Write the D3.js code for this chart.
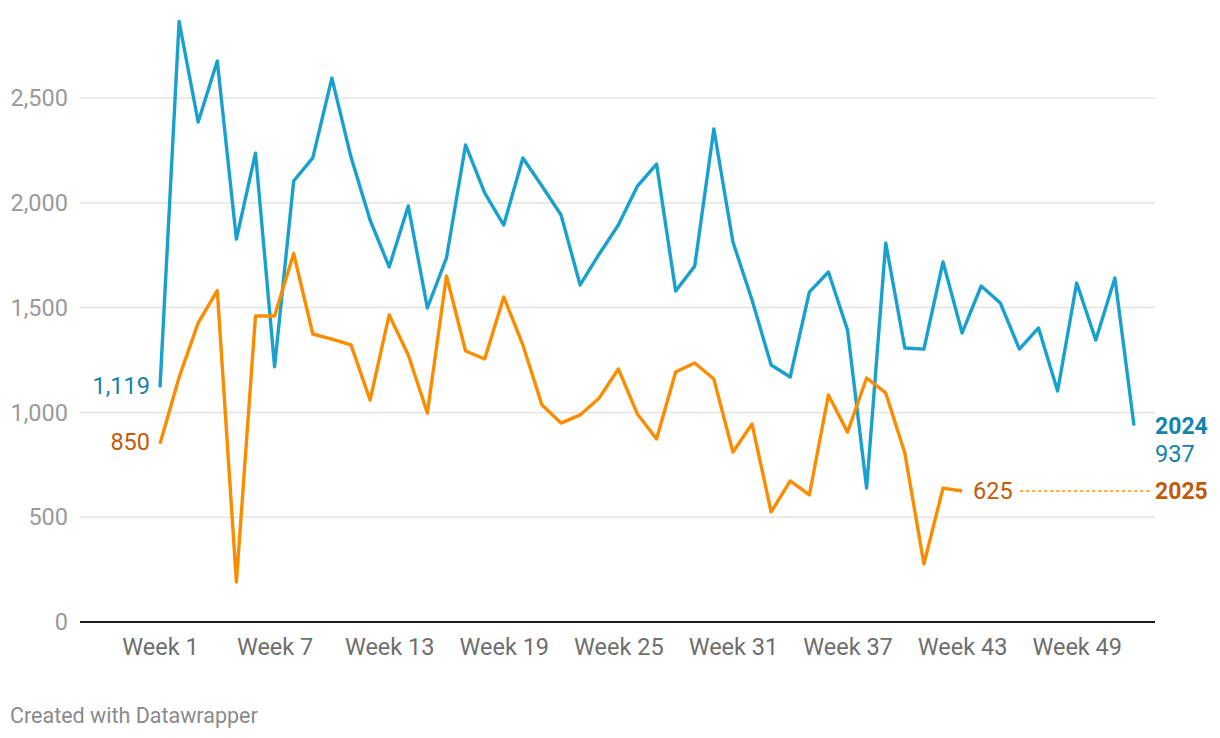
<!DOCTYPE html>
<html>
<head>
<meta charset="utf-8">
<script src="https://cdn.jsdelivr.net/npm/d3@7"></script>
<style>
  body { margin: 0; background: #fff; font-family: Roboto, "Noto Sans", sans-serif; }
  svg { display: block; }
</style>
</head>
<body>
<div id="chart"></div>
<script>
// weekly values
const weeks = [1,2,3,4,5,6,7,8,9,10,11,12,13,14,15,16,17,18,19,20,21,22,23,24,25,26,
  27,28,29,30,31,32,33,34,35,36,37,38,39,40,41,42,43,44,45,46,47,48,49,50,51,52];

const values2024 = [1119,2865,2385,2676,1827,2237,1217,2104,2214,2595,2218,1918,1694,1985,
  1498,1737,2276,2047,1894,2214,2080,1942,1608,1756,1894,2080,2185,1579,1698,2352,1813,
  1536,1226,1169,1574,1670,1393,639,1808,1307,1302,1718,1379,1603,1522,1302,1403,1102,
  1617,1345,1641,937];

const values2025 = [850,1167,1427,1581,191,1460,1460,1758,1374,1350,1322,1059,1465,1274,
  997,1651,1293,1255,1551,1322,1035,949,988,1069,1207,992,873,1193,1236,1159,811,945,
  525,673,606,1083,906,1164,1093,806,277,639,625];

const yTicks = [0, 500, 1000, 1500, 2000, 2500];
const xTicks = [1, 7, 13, 19, 25, 31, 37, 43, 49];

const width = 1220, height = 738;
const blue = "#18a1cd", orange = "#fa8c00";
const blueText = "#1283ad", orangeText = "#c25b09";

const svg = d3.select("#chart").append("svg")
  .attr("width", width)
  .attr("height", height);

const x = d3.scaleLinear().domain([1, 52]).range([160, 1134]);
const y = d3.scaleLinear().domain([0, 2500]).range([622, 98]);

const left = 80, right = 1155;

// gridlines
svg.append("g")
  .selectAll("line")
  .data(yTicks.filter(d => d > 0))
  .enter().append("line")
  .attr("x1", left).attr("x2", right)
  .attr("y1", d => y(d)).attr("y2", d => y(d))
  .attr("stroke", "#e3e3e3")
  .attr("stroke-width", 1.5);

// y labels
svg.append("g")
  .selectAll("text")
  .data(yTicks)
  .enter().append("text")
  .attr("x", 68)
  .attr("y", d => y(d))
  .attr("dy", "0.35em")
  .attr("text-anchor", "end")
  .attr("fill", "#9a9a9a")
  .style("font-size", "23.5px")
  .text(d => d3.format(",")(d));

// baseline
svg.append("line")
  .attr("x1", left).attr("x2", right)
  .attr("y1", y(0)).attr("y2", y(0))
  .attr("stroke", "#1a1a1a")
  .attr("stroke-width", 2);

// x axis
const xAxis = d3.axisBottom(x)
  .tickValues(xTicks)
  .tickSize(0)
  .tickPadding(16)
  .tickFormat(d => "Week " + d);

svg.append("g")
  .attr("transform", `translate(0,${y(0)})`)
  .call(xAxis)
  .call(g => g.select(".domain").remove())
  .call(g => g.selectAll("text")
    .attr("fill", "#6e6e6e")
    .style("font-family", "Roboto, sans-serif")
    .style("font-size", "23.5px"));

const line = d3.line()
  .x((d, i) => x(weeks[i]))
  .y(d => y(d));

svg.append("path")
  .datum(values2024)
  .attr("d", line)
  .attr("fill", "none")
  .attr("stroke", blue)
  .attr("stroke-width", 3.4)
  .attr("stroke-linejoin", "round");

svg.append("path")
  .datum(values2025)
  .attr("d", line)
  .attr("fill", "none")
  .attr("stroke", orange)
  .attr("stroke-width", 3.4)
  .attr("stroke-linejoin", "round");

// start labels
const first24 = values2024[0], first25 = values2025[0];
svg.append("text")
  .attr("x", x(weeks[0]) - 10).attr("y", y(first24) - 2)
  .attr("text-anchor", "end").attr("dy", "0.35em")
  .attr("fill", blueText).style("font-size", "23.5px")
  .text(d3.format(",")(first24));

svg.append("text")
  .attr("x", x(weeks[0]) - 10).attr("y", y(first25) - 2)
  .attr("text-anchor", "end").attr("dy", "0.35em")
  .attr("fill", orangeText).style("font-size", "23.5px")
  .text(d3.format(",")(first25));

// end labels
const last24 = values2024[values2024.length - 1];
const last25 = values2025[values2025.length - 1];
const lastWeek25 = weeks[values2025.length - 1];

svg.append("text")
  .attr("x", 1155).attr("y", y(last24))
  .attr("dy", "0.35em")
  .attr("fill", blueText).style("font-size", "23px").style("font-weight", "bold")
  .text("2024");
svg.append("text")
  .attr("x", 1155).attr("y", y(last24) + 28)
  .attr("dy", "0.35em")
  .attr("fill", blueText).style("font-size", "23.5px")
  .text(d3.format(",")(last24));

svg.append("text")
  .attr("x", x(lastWeek25) + 11).attr("y", y(last25))
  .attr("dy", "0.35em")
  .attr("fill", orangeText).style("font-size", "23.5px")
  .text(d3.format(",")(last25));

svg.append("line")
  .attr("x1", x(lastWeek25) + 58).attr("x2", 1150)
  .attr("y1", y(last25)).attr("y2", y(last25))
  .attr("stroke", orange)
  .attr("stroke-width", 1.3)
  .attr("stroke-dasharray", "3,3");

svg.append("text")
  .attr("x", 1155).attr("y", y(last25))
  .attr("dy", "0.35em")
  .attr("fill", orangeText).style("font-size", "23px").style("font-weight", "bold")
  .text("2025");

// footer
svg.append("text")
  .attr("x", 10).attr("y", 715)
  .attr("dy", "0.35em")
  .attr("fill", "#8a8a8a")
  .style("font-size", "21.5px")
  .text("Created with Datawrapper");
</script>
</body>
</html>
